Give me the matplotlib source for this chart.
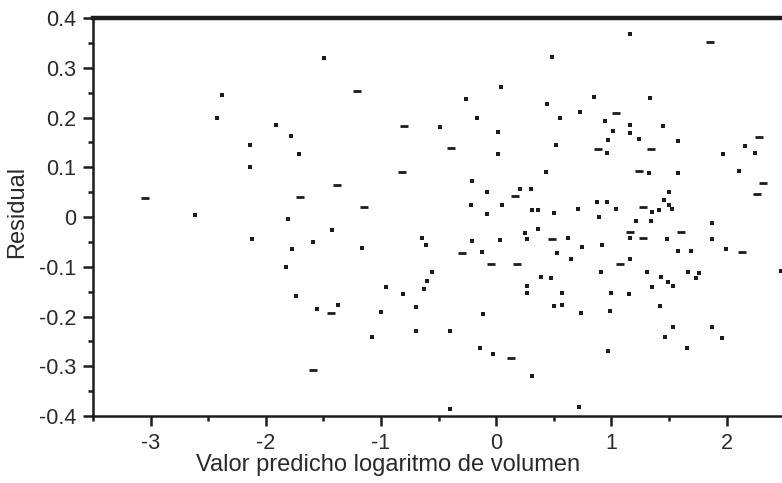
import numpy as np
import matplotlib
matplotlib.use("Agg")
import matplotlib.pyplot as plt
from matplotlib.ticker import MultipleLocator

plt.rcParams['font.family'] = ['Liberation Sans', 'DejaVu Sans']

# residuals drawn as small squares
sq_x = [-2.383, -2.426, -1.913, -1.783, -2.139, -1.713, -2.139, -2.617, -1.809, -2.122,
        -1.591, -1.774, -1.826, -1.739, -1.557, -1.496, 0.043, -0.261, 0.443, -0.165,
        -0.487, 0.017, 0.017, 0.435, -0.209, -0.078, 0.209, 0.304, -0.217, 0.052,
        0.313, -0.078, 0.365, -1.426, -0.643, -0.609, -1.165, -0.209, 0.035, 0.252,
        0.365, 0.270, -0.122, -0.557, 0.391, -0.600, -0.957, -0.626, -0.809, 0.270,
        0.270, -1.374, -1.000, -0.696, -0.113, -1.078, -0.696, -0.400, -0.139, -0.026,
        0.313, -0.400, 1.165, 0.487, 0.852, 1.330, 0.730, 0.557, 0.948, 1.165,
        1.443, 1.009, 1.165, 1.235, 0.974, 1.574, 0.522, 0.965, 2.157, 1.965,
        2.243, 1.322, 1.574, 2.104, 1.496, 1.452, 0.870, 0.957, 1.496, 0.713,
        1.043, 1.409, 1.522, 0.504, 1.348, 0.896, 1.217, 1.339, 1.870, 0.626,
        1.157, 1.478, 0.748, 0.922, 1.870, 1.574, 1.687, 1.991, 0.530, 0.652,
        1.157, 0.913, 1.304, 1.661, 1.757, 1.730, 2.470, 0.478, 1.426, 1.487,
        1.530, 1.348, 0.574, 1.000, 1.148, 0.504, 0.574, 1.417, 0.739, 0.983,
        1.530, 1.870, 1.461, 1.957, 1.652, 0.974, 0.722]
sq_y = [0.245, 0.199, 0.185, 0.163, 0.145, 0.127, 0.101, 0.004, -0.004, -0.044,
        -0.050, -0.064, -0.101, -0.159, -0.185, 0.320, 0.261, 0.237, 0.227, 0.199,
        0.181, 0.171, 0.127, 0.090, 0.072, 0.050, 0.056, 0.056, 0.024, 0.024,
        0.014, 0.006, 0.014, -0.026, -0.042, -0.056, -0.062, -0.048, -0.046, -0.032,
        -0.024, -0.044, -0.070, -0.111, -0.121, -0.129, -0.141, -0.145, -0.155, -0.139,
        -0.153, -0.177, -0.191, -0.181, -0.195, -0.241, -0.229, -0.229, -0.263, -0.275,
        -0.320, -0.386, 0.368, 0.322, 0.241, 0.239, 0.211, 0.199, 0.193, 0.185,
        0.183, 0.173, 0.169, 0.157, 0.155, 0.153, 0.145, 0.129, 0.143, 0.127,
        0.129, 0.088, 0.088, 0.092, 0.050, 0.034, 0.030, 0.030, 0.024, 0.016,
        0.016, 0.014, 0.016, 0.008, 0.010, 0.000, -0.008, -0.008, -0.012, -0.042,
        -0.042, -0.044, -0.060, -0.056, -0.044, -0.068, -0.068, -0.064, -0.072, -0.084,
        -0.084, -0.111, -0.111, -0.111, -0.113, -0.123, -0.109, -0.123, -0.121, -0.131,
        -0.139, -0.141, -0.153, -0.153, -0.155, -0.179, -0.177, -0.179, -0.193, -0.189,
        -0.221, -0.221, -0.241, -0.243, -0.263, -0.269, -0.382]

# residuals drawn as short dashes
dash_x = [-3.052, -1.704, -1.591, -1.209, -0.800, -0.391, -0.817, -1.383, 0.165, -1.148,
          -0.296, -0.043, 0.183, -1.435, 0.130, 1.852, 1.035, 0.887, 1.339, 2.278,
          1.243, 2.313, 2.261, 1.270, 1.157, 1.600, 0.487, 1.270, 2.130, 1.078]
dash_y = [0.038, 0.040, -0.308, 0.253, 0.183, 0.139, 0.090, 0.064, 0.042, 0.020,
          -0.072, -0.094, -0.094, -0.193, -0.283, 0.352, 0.209, 0.137, 0.137, 0.161,
          0.092, 0.068, 0.046, 0.020, -0.030, -0.030, -0.044, -0.042, -0.070, -0.094]

x_ticks = [-3, -2, -1, 0, 1, 2]
y_ticks = [-0.4, -0.3, -0.2, -0.1, 0, 0.1, 0.2, 0.3, 0.4]
y_labels = ['-0.4', '-0.3', '-0.2', '-0.1', '0', '0.1', '0.2', '0.3', '0.4']

fig = plt.figure(figsize=(7.82, 4.83), dpi=100)
ax = fig.add_axes([93 / 782, 1 - 416 / 483, 1 - 93 / 782, (416 - 18) / 483])

ink = '#1c1c1c'
ax.plot(sq_x, sq_y, 's', color=ink, ms=3.5, mew=0, clip_on=False)
ax.plot(dash_x, dash_y, '_', color=ink, ms=5.5, mew=2, clip_on=False)

ax.set_xlim(-3.5, 2.48)
ax.set_ylim(-0.4, 0.4)
ax.set_xticks(x_ticks)
ax.set_xticklabels([str(v) for v in x_ticks])
ax.set_yticks(y_ticks)
ax.set_yticklabels(y_labels)
ax.xaxis.set_minor_locator(MultipleLocator(0.5))
ax.yaxis.set_minor_locator(MultipleLocator(0.05))

ax.tick_params(which='major', direction='out', length=7, width=1.8, labelsize=15.5,
               color=ink, labelcolor='#2a2a2a')
ax.tick_params(axis='x', which='major', pad=5)
ax.tick_params(axis='y', which='major', pad=5)
ax.tick_params(which='minor', direction='out', length=3.5, width=1.8, color=ink)

ax.spines['right'].set_visible(False)
ax.spines['top'].set_linewidth(3.2)
ax.spines['left'].set_linewidth(1.8)
ax.spines['bottom'].set_linewidth(1.8)
for s in ['top', 'left', 'bottom']:
    ax.spines[s].set_color(ink)

ax.set_xlabel('Valor predicho logaritmo de volumen', fontsize=17, color='#2a2a2a')
ax.xaxis.set_label_coords(0.428, -0.096)
ax.set_ylabel('Residual', fontsize=17, color='#2a2a2a')
ax.yaxis.set_label_coords(-0.094, 0.513)

fig.savefig('out.png', dpi=100)
